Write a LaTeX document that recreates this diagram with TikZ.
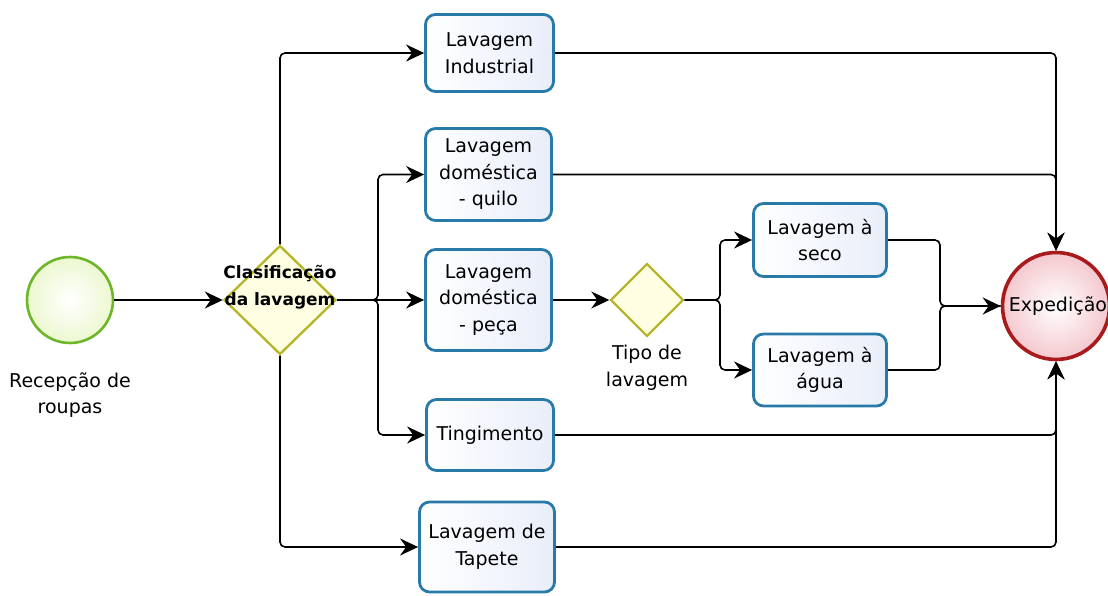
\documentclass[tikz,border=0pt]{standalone}
\usepackage{fontspec}
\setmainfont{DejaVu Sans}
\usetikzlibrary{arrows.meta,shapes.geometric}
\definecolor{boxblue}{RGB}{40,122,168}
\definecolor{boxfill}{RGB}{232,238,250}
\definecolor{gateolive}{RGB}{182,182,44}
\definecolor{gatefill}{RGB}{254,254,226}
\definecolor{startgreen}{RGB}{108,182,40}
\definecolor{startfill}{RGB}{236,248,208}
\definecolor{endred}{RGB}{168,26,28}
\definecolor{endfill}{RGB}{244,200,206}
\begin{document}
\begin{tikzpicture}[x=1pt,y=-1pt,
  txt/.style={font=\fontsize{19}{26.5}\selectfont},
  task/.style={txt, draw=boxblue, line width=2.8pt, rounded corners=10pt,
    left color=white, right color=boxfill, align=center, inner sep=0pt},
  gate/.style={diamond, draw=gateolive, line width=2.4pt, fill=gatefill, inner sep=0pt},
  flow/.style={line width=1.6pt, rounded corners=5pt},
  arr/.style={-{Stealth[length=18pt,width=17pt,inset=6pt]}},
  lab/.style={txt, align=center, inner sep=0pt}
]
\useasboundingbox (0,0) rectangle (1108,596);

% events
\node[circle, draw=startgreen, line width=2.6pt, inner color=white, outer color=startfill,
  minimum size=86pt, inner sep=0pt] (start) at (70,300) {};
\node[lab] (startlab) at (70,395) {Recepção de\\roupas};

\node[circle, draw=endred, line width=3.6pt, inner color=white, outer color=endfill,
  minimum size=107pt, inner sep=0pt] (exp) at (1056,306) {};
\node[lab] (explab) at (1058,306) {Expedição};

% gateways
\node[gate, minimum width=112pt, minimum height=109pt] (cls) at (280,300) {};
\node[font=\bfseries\fontsize{17}{27}\selectfont, align=center, inner sep=0pt] (clslab) at (280,287) {Clasificação\\da lavagem};

\node[gate, minimum width=73pt, minimum height=73pt] (tipo) at (647,300) {};
\node[lab] (tipolab) at (647,368) {Tipo de\\lavagem};

% tasks
\node[task, minimum width=128pt, minimum height=77pt] (ind) at (489.5,53) {Lavagem\\Industrial};
\node[task, minimum width=126pt, minimum height=92pt] (quilo) at (488.5,174.5) {Lavagem\\doméstica\\- quilo};
\node[task, minimum width=126pt, minimum height=101pt] (peca) at (488.5,300) {Lavagem\\doméstica\\- peça};
\node[task, minimum width=127pt, minimum height=71pt] (ting) at (490,435) {Tingimento};
\node[task, minimum width=135pt, minimum height=90pt] (tap) at (487,547) {Lavagem de\\Tapete};
\node[task, minimum width=133pt, minimum height=73pt] (seco) at (820,240) {Lavagem à\\seco};
\node[task, minimum width=133pt, minimum height=72pt] (agua) at (820,370) {Lavagem à\\água};

% junctions
\coordinate (j1) at (378,300);
\coordinate (j2) at (720,300);
\coordinate (j3) at (940,306);

% flows
\draw[flow,arr] (start.east) -- (cls.west);
\draw[flow,arr] (cls.north) |- (ind.west);
\draw[flow,arr] (cls.south) |- (tap.west);
\draw[flow,arr] (cls.east) -- (peca.west);
\draw[flow,arr] (cls.east) -- (j1) |- (quilo.west);
\draw[flow,arr] (cls.east) -- (j1) |- (ting.west);
\draw[flow,arr] (peca.east) -- (tipo.west);
\draw[flow,arr] (tipo.east) -- (j2) |- (seco.west);
\draw[flow,arr] (tipo.east) -- (j2) |- (agua.west);
\draw[flow,arr] (seco.east) -| (j3) -- (exp.west);
\draw[flow] (agua.east) -| (j3) -- (exp.west);
\draw[flow,arr] (ind.east) -| (exp.north);
\draw[flow,arr] (quilo.east) -| (exp.north);
\draw[flow,arr] (ting.east) -| (exp.south);
\draw[flow,arr] (tap.east) -| (exp.south);
\end{tikzpicture}
\end{document}
